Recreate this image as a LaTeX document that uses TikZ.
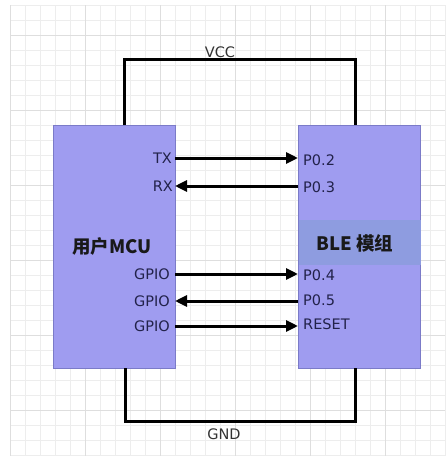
\documentclass[tikz,border=0pt]{standalone}
\usepackage{fontspec}
\setmainfont{DejaVu Sans}
\newfontfamily\cjk{Noto Sans CJK SC}
\usetikzlibrary{arrows.meta}
\definecolor{boxfill}{HTML}{9F9CF0}
\definecolor{boxline}{HTML}{7B7BC8}
\definecolor{bandfill}{HTML}{8E9CE0}
\definecolor{pintext}{HTML}{22224A}
\definecolor{gridminor}{HTML}{EDEDED}
\definecolor{gridmajor}{HTML}{DEDEDE}
\tikzset{
  chip/.style={draw=boxline, fill=boxfill, line width=1pt, minimum width=122pt, minimum height=243pt, inner sep=0pt},
  pinL/.style={anchor=east, text=pintext, font=\fontsize{14.5}{14.5}\selectfont, inner sep=0pt},
  pinR/.style={anchor=west, text=pintext, font=\fontsize{14.5}{14.5}\selectfont, inner sep=0pt},
  wire/.style={line width=3pt, black},
  sig/.style={line width=3pt, black, -{Triangle[length=12pt,width=11pt]}},
  rail/.style={text=black!80, font=\fontsize{14.5}{14.5}\selectfont, inner sep=0pt},
  title/.style={text=black!90, font=\cjk\bfseries\fontsize{18.5}{18.5}\selectfont, inner sep=0pt}
}
\begin{document}
\begin{tikzpicture}[x=1pt,y=-1pt]
\useasboundingbox (0,0) rectangle (445,461);
\fill[white] (0,0) rectangle (445,461);
% grid
\foreach \x in {10,25,...,445} \draw[gridminor, line width=0.8pt] (\x,5) -- (\x,456);
\foreach \y in {5,20,...,456} \draw[gridminor, line width=0.8pt] (10,\y) -- (445,\y);
\foreach \x in {10,85,...,445} \draw[gridmajor, line width=0.9pt] (\x,5) -- (\x,456);
\foreach \y in {35,110,...,456} \draw[gridmajor, line width=0.9pt] (10,\y) -- (445,\y);
% chips
\node[chip, anchor=north west] (mcu) at (53,125) {};
\node[chip, anchor=north west] (ble) at (298,125) {};
\fill[bandfill] (298.5,220) rectangle (420.5,265);
\node[title, anchor=west] (mcut) at (72,246) {用户MCU};
\node[title, anchor=west] (blet) at (316,243) {BLE 模组};
% power rails
\coordinate (vccL) at (124,125);
\coordinate (vccR) at (355,125);
\coordinate (gndL) at (125,368);
\coordinate (gndR) at (355,368);
\draw[wire] (vccL) -- (124,59) -- (355,59) -- (vccR);
\draw[wire] (gndL) -- (125,421) -- (355,421) -- (gndR);
\node[rail] (vcc) at (220,52) {VCC};
\node[rail] (gnd) at (224,434) {GND};
% pin labels
\node[pinL] (tx) at (172,158) {TX};
\node[pinL] (rx) at (173,186) {RX};
\node[pinL] (g1) at (170,274) {GPIO};
\node[pinL] (g2) at (170,301) {GPIO};
\node[pinL] (g3) at (170,326) {GPIO};
\node[pinR] (p2) at (303,160) {P0.2};
\node[pinR] (p3) at (303,187) {P0.3};
\node[pinR] (p4) at (303,275) {P0.4};
\node[pinR] (p5) at (303,300) {P0.5};
\node[pinR] (rst) at (303,324) {RESET};
% signals
\coordinate (a1) at (175,158); \coordinate (b1) at (298,158);
\coordinate (a2) at (175,186); \coordinate (b2) at (298,186);
\coordinate (a3) at (175,274); \coordinate (b3) at (298,274);
\coordinate (a4) at (175,301); \coordinate (b4) at (298,301);
\coordinate (a5) at (175,326); \coordinate (b5) at (298,326);
\draw[sig] (a1) -- (b1);
\draw[sig] (b2) -- (a2);
\draw[sig] (a3) -- (b3);
\draw[sig] (b4) -- (a4);
\draw[sig] (a5) -- (b5);
\end{tikzpicture}
\end{document}
